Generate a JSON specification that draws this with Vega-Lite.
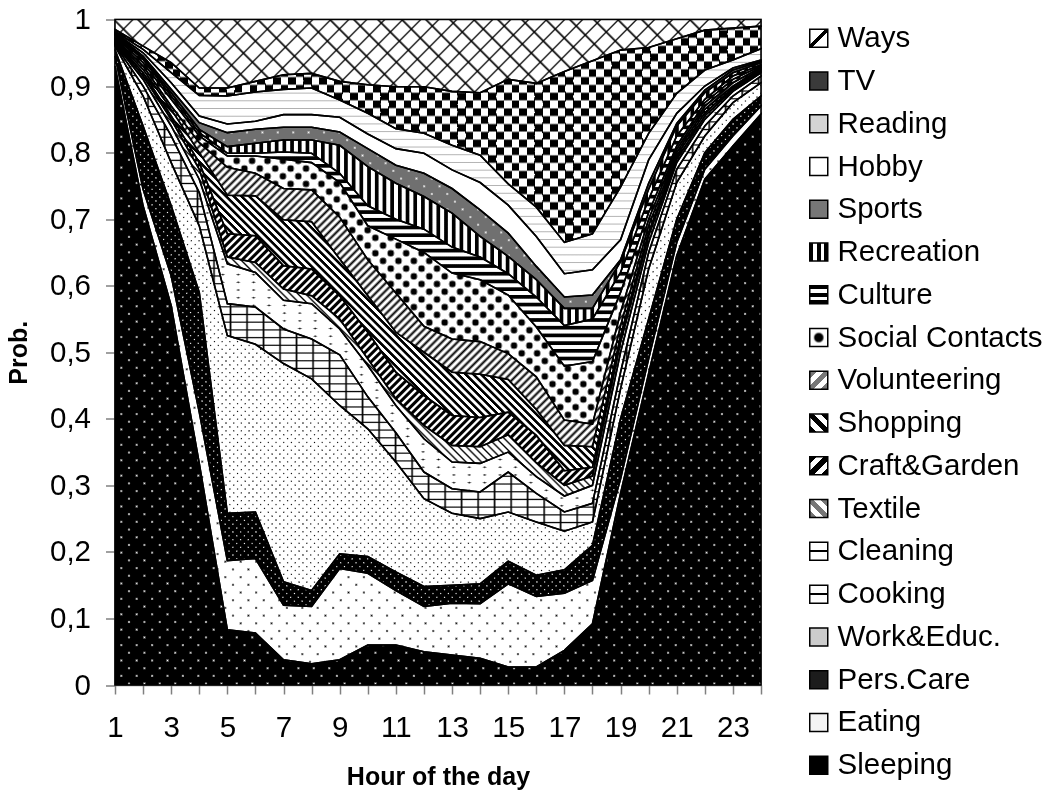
{"$schema":"https://vega.github.io/schema/vega-lite/v6.json","width":646,"height":665.5,"autosize":{"type":"none"},"padding":{"left":115,"top":19.5,"right":288,"bottom":107},"background":"white","config":{"view":{"stroke":"#808080","strokeWidth":1.5},"font":"Liberation Sans"},
"params":[
{"name":"S5","value":[{"offset":0,"color":"#000"},{"offset":0.2,"color":"#000"},{"offset":0.2,"color":"#fff"},{"offset":0.4,"color":"#fff"},{"offset":0.4,"color":"#000"},{"offset":0.6,"color":"#000"},{"offset":0.6,"color":"#fff"},{"offset":0.8,"color":"#fff"},{"offset":0.8,"color":"#000"},{"offset":1,"color":"#000"}]},
{"name":"G5","value":[{"offset":0,"color":"#777"},{"offset":0.2,"color":"#777"},{"offset":0.2,"color":"#fff"},{"offset":0.4,"color":"#fff"},{"offset":0.4,"color":"#777"},{"offset":0.6,"color":"#777"},{"offset":0.6,"color":"#fff"},{"offset":0.8,"color":"#fff"},{"offset":0.8,"color":"#777"},{"offset":1,"color":"#777"}]},
{"name":"T1","value":[{"offset":0,"color":"#fff"},{"offset":0.44,"color":"#fff"},{"offset":0.44,"color":"#000"},{"offset":0.56,"color":"#000"},{"offset":0.56,"color":"#fff"},{"offset":1,"color":"#fff"}]},
{"name":"L","value":[{"offset":0,"color":"#000"},{"offset":0.0025,"color":"#fff"},{"offset":0.0225,"color":"#fff"},{"offset":0.025,"color":"#000"},{"offset":0.0275,"color":"#fff"},{"offset":0.0475,"color":"#fff"},{"offset":0.05,"color":"#000"},{"offset":0.0525,"color":"#fff"},{"offset":0.0725,"color":"#fff"},{"offset":0.075,"color":"#000"},{"offset":0.0775,"color":"#fff"},{"offset":0.0975,"color":"#fff"},{"offset":0.1,"color":"#000"},{"offset":0.1025,"color":"#fff"},{"offset":0.1225,"color":"#fff"},{"offset":0.125,"color":"#000"},{"offset":0.1275,"color":"#fff"},{"offset":0.1475,"color":"#fff"},{"offset":0.15,"color":"#000"},{"offset":0.1525,"color":"#fff"},{"offset":0.1725,"color":"#fff"},{"offset":0.175,"color":"#000"},{"offset":0.1775,"color":"#fff"},{"offset":0.1975,"color":"#fff"},{"offset":0.2,"color":"#000"},{"offset":0.2025,"color":"#fff"},{"offset":0.2225,"color":"#fff"},{"offset":0.225,"color":"#000"},{"offset":0.2275,"color":"#fff"},{"offset":0.2475,"color":"#fff"},{"offset":0.25,"color":"#000"},{"offset":0.2525,"color":"#fff"},{"offset":0.2725,"color":"#fff"},{"offset":0.275,"color":"#000"},{"offset":0.2775,"color":"#fff"},{"offset":0.2975,"color":"#fff"},{"offset":0.3,"color":"#000"},{"offset":0.3025,"color":"#fff"},{"offset":0.3225,"color":"#fff"},{"offset":0.325,"color":"#000"},{"offset":0.3275,"color":"#fff"},{"offset":0.3475,"color":"#fff"},{"offset":0.35,"color":"#000"},{"offset":0.3525,"color":"#fff"},{"offset":0.3725,"color":"#fff"},{"offset":0.375,"color":"#000"},{"offset":0.3775,"color":"#fff"},{"offset":0.3975,"color":"#fff"},{"offset":0.4,"color":"#000"},{"offset":0.4025,"color":"#fff"},{"offset":0.4225,"color":"#fff"},{"offset":0.425,"color":"#000"},{"offset":0.4275,"color":"#fff"},{"offset":0.4475,"color":"#fff"},{"offset":0.45,"color":"#000"},{"offset":0.4525,"color":"#fff"},{"offset":0.4725,"color":"#fff"},{"offset":0.475,"color":"#000"},{"offset":0.4775,"color":"#fff"},{"offset":0.4975,"color":"#fff"},{"offset":0.5,"color":"#000"},{"offset":0.5025,"color":"#fff"},{"offset":0.5225,"color":"#fff"},{"offset":0.525,"color":"#000"},{"offset":0.5275,"color":"#fff"},{"offset":0.5475,"color":"#fff"},{"offset":0.55,"color":"#000"},{"offset":0.5525,"color":"#fff"},{"offset":0.5725,"color":"#fff"},{"offset":0.575,"color":"#000"},{"offset":0.5775,"color":"#fff"},{"offset":0.5975,"color":"#fff"},{"offset":0.6,"color":"#000"},{"offset":0.6025,"color":"#fff"},{"offset":0.6225,"color":"#fff"},{"offset":0.625,"color":"#000"},{"offset":0.6275,"color":"#fff"},{"offset":0.6475,"color":"#fff"},{"offset":0.65,"color":"#000"},{"offset":0.6525,"color":"#fff"},{"offset":0.6725,"color":"#fff"},{"offset":0.675,"color":"#000"},{"offset":0.6775,"color":"#fff"},{"offset":0.6975,"color":"#fff"},{"offset":0.7,"color":"#000"},{"offset":0.7025,"color":"#fff"},{"offset":0.7225,"color":"#fff"},{"offset":0.725,"color":"#000"},{"offset":0.7275,"color":"#fff"},{"offset":0.7475,"color":"#fff"},{"offset":0.75,"color":"#000"},{"offset":0.7525,"color":"#fff"},{"offset":0.7725,"color":"#fff"},{"offset":0.775,"color":"#000"},{"offset":0.7775,"color":"#fff"},{"offset":0.7975,"color":"#fff"},{"offset":0.8,"color":"#000"},{"offset":0.8025,"color":"#fff"},{"offset":0.8225,"color":"#fff"},{"offset":0.825,"color":"#000"},{"offset":0.8275,"color":"#fff"},{"offset":0.8475,"color":"#fff"},{"offset":0.85,"color":"#000"},{"offset":0.8525,"color":"#fff"},{"offset":0.8725,"color":"#fff"},{"offset":0.875,"color":"#000"},{"offset":0.8775,"color":"#fff"},{"offset":0.8975,"color":"#fff"},{"offset":0.9,"color":"#000"},{"offset":0.9025,"color":"#fff"},{"offset":0.9225,"color":"#fff"},{"offset":0.925,"color":"#000"},{"offset":0.9275,"color":"#fff"},{"offset":0.9475,"color":"#fff"},{"offset":0.95,"color":"#000"},{"offset":0.9525,"color":"#fff"},{"offset":0.9725,"color":"#fff"},{"offset":0.975,"color":"#000"},{"offset":0.9775,"color":"#fff"},{"offset":0.9975,"color":"#fff"},{"offset":1,"color":"#000"}]},
{"name":"D","value":[{"offset":0,"color":"#000"},{"offset":0.003,"color":"#fff"},{"offset":0.006,"color":"#000"},{"offset":0.009,"color":"#fff"},{"offset":0.012,"color":"#000"},{"offset":0.015,"color":"#fff"},{"offset":0.018,"color":"#000"},{"offset":0.021,"color":"#fff"},{"offset":0.024,"color":"#000"},{"offset":0.027,"color":"#fff"},{"offset":0.03,"color":"#000"},{"offset":0.033,"color":"#fff"},{"offset":0.036,"color":"#000"},{"offset":0.039,"color":"#fff"},{"offset":0.042,"color":"#000"},{"offset":0.045,"color":"#fff"},{"offset":0.048,"color":"#000"},{"offset":0.051,"color":"#fff"},{"offset":0.054,"color":"#000"},{"offset":0.057,"color":"#fff"},{"offset":0.06,"color":"#000"},{"offset":0.063,"color":"#fff"},{"offset":0.066,"color":"#000"},{"offset":0.069,"color":"#fff"},{"offset":0.072,"color":"#000"},{"offset":0.075,"color":"#fff"},{"offset":0.078,"color":"#000"},{"offset":0.081,"color":"#fff"},{"offset":0.084,"color":"#000"},{"offset":0.087,"color":"#fff"},{"offset":0.09,"color":"#000"},{"offset":0.093,"color":"#fff"},{"offset":0.096,"color":"#000"},{"offset":0.099,"color":"#fff"},{"offset":0.102,"color":"#000"},{"offset":0.105,"color":"#fff"},{"offset":0.108,"color":"#000"},{"offset":0.111,"color":"#fff"},{"offset":0.114,"color":"#000"},{"offset":0.117,"color":"#fff"},{"offset":0.12,"color":"#000"},{"offset":0.123,"color":"#fff"},{"offset":0.126,"color":"#000"},{"offset":0.129,"color":"#fff"},{"offset":0.132,"color":"#000"},{"offset":0.135,"color":"#fff"},{"offset":0.138,"color":"#000"},{"offset":0.141,"color":"#fff"},{"offset":0.144,"color":"#000"},{"offset":0.147,"color":"#fff"},{"offset":0.15,"color":"#000"},{"offset":0.153,"color":"#fff"},{"offset":0.156,"color":"#000"},{"offset":0.159,"color":"#fff"},{"offset":0.162,"color":"#000"},{"offset":0.165,"color":"#fff"},{"offset":0.168,"color":"#000"},{"offset":0.171,"color":"#fff"},{"offset":0.174,"color":"#000"},{"offset":0.177,"color":"#fff"},{"offset":0.18,"color":"#000"},{"offset":0.183,"color":"#fff"},{"offset":0.186,"color":"#000"},{"offset":0.189,"color":"#fff"},{"offset":0.192,"color":"#000"},{"offset":0.195,"color":"#fff"},{"offset":0.198,"color":"#000"},{"offset":0.201,"color":"#fff"},{"offset":0.204,"color":"#000"},{"offset":0.207,"color":"#fff"},{"offset":0.21,"color":"#000"},{"offset":0.213,"color":"#fff"},{"offset":0.216,"color":"#000"},{"offset":0.219,"color":"#fff"},{"offset":0.222,"color":"#000"},{"offset":0.225,"color":"#fff"},{"offset":0.228,"color":"#000"},{"offset":0.231,"color":"#fff"},{"offset":0.234,"color":"#000"},{"offset":0.237,"color":"#fff"},{"offset":0.24,"color":"#000"},{"offset":0.243,"color":"#fff"},{"offset":0.246,"color":"#000"},{"offset":0.249,"color":"#fff"},{"offset":0.252,"color":"#000"},{"offset":0.255,"color":"#fff"},{"offset":0.258,"color":"#000"},{"offset":0.261,"color":"#fff"},{"offset":0.264,"color":"#000"},{"offset":0.267,"color":"#fff"},{"offset":0.27,"color":"#000"},{"offset":0.273,"color":"#fff"},{"offset":0.276,"color":"#000"},{"offset":0.279,"color":"#fff"},{"offset":0.282,"color":"#000"},{"offset":0.285,"color":"#fff"},{"offset":0.288,"color":"#000"},{"offset":0.291,"color":"#fff"},{"offset":0.294,"color":"#000"},{"offset":0.297,"color":"#fff"},{"offset":0.3,"color":"#000"},{"offset":0.303,"color":"#fff"},{"offset":0.306,"color":"#000"},{"offset":0.309,"color":"#fff"},{"offset":0.312,"color":"#000"},{"offset":0.315,"color":"#fff"},{"offset":0.318,"color":"#000"},{"offset":0.321,"color":"#fff"},{"offset":0.324,"color":"#000"},{"offset":0.327,"color":"#fff"},{"offset":0.33,"color":"#000"},{"offset":0.333,"color":"#fff"},{"offset":0.336,"color":"#000"},{"offset":0.339,"color":"#fff"},{"offset":0.342,"color":"#000"},{"offset":0.345,"color":"#fff"},{"offset":0.348,"color":"#000"},{"offset":0.351,"color":"#fff"},{"offset":0.354,"color":"#000"},{"offset":0.357,"color":"#fff"},{"offset":0.36,"color":"#000"},{"offset":0.363,"color":"#fff"},{"offset":0.366,"color":"#000"},{"offset":0.369,"color":"#fff"},{"offset":0.372,"color":"#000"},{"offset":0.375,"color":"#fff"},{"offset":0.378,"color":"#000"},{"offset":0.381,"color":"#fff"},{"offset":0.384,"color":"#000"},{"offset":0.387,"color":"#fff"},{"offset":0.39,"color":"#000"},{"offset":0.393,"color":"#fff"},{"offset":0.396,"color":"#000"},{"offset":0.399,"color":"#fff"},{"offset":0.402,"color":"#000"},{"offset":0.405,"color":"#fff"},{"offset":0.408,"color":"#000"},{"offset":0.411,"color":"#fff"},{"offset":0.414,"color":"#000"},{"offset":0.417,"color":"#fff"},{"offset":0.42,"color":"#000"},{"offset":0.423,"color":"#fff"},{"offset":0.426,"color":"#000"},{"offset":0.429,"color":"#fff"},{"offset":0.432,"color":"#000"},{"offset":0.435,"color":"#fff"},{"offset":0.438,"color":"#000"},{"offset":0.441,"color":"#fff"},{"offset":0.444,"color":"#000"},{"offset":0.447,"color":"#fff"},{"offset":0.45,"color":"#000"},{"offset":0.453,"color":"#fff"},{"offset":0.456,"color":"#000"},{"offset":0.459,"color":"#fff"},{"offset":0.462,"color":"#000"},{"offset":0.465,"color":"#fff"},{"offset":0.468,"color":"#000"},{"offset":0.471,"color":"#fff"},{"offset":0.474,"color":"#000"},{"offset":0.477,"color":"#fff"},{"offset":0.48,"color":"#000"},{"offset":0.483,"color":"#fff"},{"offset":0.486,"color":"#000"},{"offset":0.489,"color":"#fff"},{"offset":0.492,"color":"#000"},{"offset":0.495,"color":"#fff"},{"offset":0.498,"color":"#000"},{"offset":0.501,"color":"#fff"},{"offset":0.504,"color":"#000"},{"offset":0.507,"color":"#fff"},{"offset":0.51,"color":"#000"},{"offset":0.513,"color":"#fff"},{"offset":0.516,"color":"#000"},{"offset":0.519,"color":"#fff"},{"offset":0.522,"color":"#000"},{"offset":0.525,"color":"#fff"},{"offset":0.528,"color":"#000"},{"offset":0.531,"color":"#fff"},{"offset":0.534,"color":"#000"},{"offset":0.537,"color":"#fff"},{"offset":0.54,"color":"#000"},{"offset":0.543,"color":"#fff"},{"offset":0.546,"color":"#000"},{"offset":0.549,"color":"#fff"},{"offset":0.552,"color":"#000"},{"offset":0.555,"color":"#fff"},{"offset":0.558,"color":"#000"},{"offset":0.561,"color":"#fff"},{"offset":0.564,"color":"#000"},{"offset":0.567,"color":"#fff"},{"offset":0.57,"color":"#000"},{"offset":0.573,"color":"#fff"},{"offset":0.576,"color":"#000"},{"offset":0.579,"color":"#fff"},{"offset":0.582,"color":"#000"},{"offset":0.585,"color":"#fff"},{"offset":0.588,"color":"#000"},{"offset":0.591,"color":"#fff"},{"offset":0.594,"color":"#000"},{"offset":0.597,"color":"#fff"},{"offset":0.6,"color":"#000"},{"offset":0.603,"color":"#fff"},{"offset":0.606,"color":"#000"},{"offset":0.609,"color":"#fff"},{"offset":0.612,"color":"#000"},{"offset":0.615,"color":"#fff"},{"offset":0.618,"color":"#000"},{"offset":0.621,"color":"#fff"},{"offset":0.624,"color":"#000"},{"offset":0.627,"color":"#fff"},{"offset":0.63,"color":"#000"},{"offset":0.633,"color":"#fff"},{"offset":0.636,"color":"#000"},{"offset":0.639,"color":"#fff"},{"offset":0.642,"color":"#000"},{"offset":0.645,"color":"#fff"},{"offset":0.648,"color":"#000"},{"offset":0.651,"color":"#fff"},{"offset":0.654,"color":"#000"},{"offset":0.657,"color":"#fff"},{"offset":0.66,"color":"#000"},{"offset":0.663,"color":"#fff"},{"offset":0.666,"color":"#000"},{"offset":0.669,"color":"#fff"},{"offset":0.672,"color":"#000"},{"offset":0.675,"color":"#fff"},{"offset":0.678,"color":"#000"},{"offset":0.681,"color":"#fff"},{"offset":0.684,"color":"#000"},{"offset":0.687,"color":"#fff"},{"offset":0.69,"color":"#000"},{"offset":0.693,"color":"#fff"},{"offset":0.696,"color":"#000"},{"offset":0.699,"color":"#fff"},{"offset":0.702,"color":"#000"},{"offset":0.705,"color":"#fff"},{"offset":0.708,"color":"#000"},{"offset":0.711,"color":"#fff"},{"offset":0.714,"color":"#000"},{"offset":0.717,"color":"#fff"},{"offset":0.72,"color":"#000"},{"offset":0.723,"color":"#fff"},{"offset":0.726,"color":"#000"},{"offset":0.729,"color":"#fff"},{"offset":0.732,"color":"#000"},{"offset":0.735,"color":"#fff"},{"offset":0.738,"color":"#000"},{"offset":0.741,"color":"#fff"},{"offset":0.744,"color":"#000"},{"offset":0.747,"color":"#fff"},{"offset":0.75,"color":"#000"},{"offset":0.753,"color":"#fff"},{"offset":0.756,"color":"#000"},{"offset":0.759,"color":"#fff"},{"offset":0.762,"color":"#000"},{"offset":0.765,"color":"#fff"},{"offset":0.768,"color":"#000"},{"offset":0.771,"color":"#fff"},{"offset":0.774,"color":"#000"},{"offset":0.777,"color":"#fff"},{"offset":0.78,"color":"#000"},{"offset":0.783,"color":"#fff"},{"offset":0.786,"color":"#000"},{"offset":0.789,"color":"#fff"},{"offset":0.792,"color":"#000"},{"offset":0.795,"color":"#fff"},{"offset":0.798,"color":"#000"},{"offset":0.801,"color":"#fff"},{"offset":0.804,"color":"#000"},{"offset":0.807,"color":"#fff"},{"offset":0.81,"color":"#000"},{"offset":0.813,"color":"#fff"},{"offset":0.816,"color":"#000"},{"offset":0.819,"color":"#fff"},{"offset":0.822,"color":"#000"},{"offset":0.825,"color":"#fff"},{"offset":0.828,"color":"#000"},{"offset":0.831,"color":"#fff"},{"offset":0.834,"color":"#000"},{"offset":0.837,"color":"#fff"},{"offset":0.84,"color":"#000"},{"offset":0.843,"color":"#fff"},{"offset":0.846,"color":"#000"},{"offset":0.849,"color":"#fff"},{"offset":0.852,"color":"#000"},{"offset":0.855,"color":"#fff"},{"offset":0.858,"color":"#000"},{"offset":0.861,"color":"#fff"},{"offset":0.864,"color":"#000"},{"offset":0.867,"color":"#fff"},{"offset":0.87,"color":"#000"},{"offset":0.873,"color":"#fff"},{"offset":0.876,"color":"#000"},{"offset":0.879,"color":"#fff"},{"offset":0.882,"color":"#000"},{"offset":0.885,"color":"#fff"},{"offset":0.888,"color":"#000"},{"offset":0.891,"color":"#fff"},{"offset":0.894,"color":"#000"},{"offset":0.897,"color":"#fff"},{"offset":0.9,"color":"#000"},{"offset":0.903,"color":"#fff"},{"offset":0.906,"color":"#000"},{"offset":0.909,"color":"#fff"},{"offset":0.912,"color":"#000"},{"offset":0.915,"color":"#fff"},{"offset":0.918,"color":"#000"},{"offset":0.921,"color":"#fff"},{"offset":0.924,"color":"#000"},{"offset":0.927,"color":"#fff"},{"offset":0.93,"color":"#000"},{"offset":0.933,"color":"#fff"},{"offset":0.936,"color":"#000"},{"offset":0.939,"color":"#fff"},{"offset":0.942,"color":"#000"},{"offset":0.945,"color":"#fff"},{"offset":0.948,"color":"#000"},{"offset":0.951,"color":"#fff"},{"offset":0.954,"color":"#000"},{"offset":0.957,"color":"#fff"},{"offset":0.96,"color":"#000"},{"offset":0.963,"color":"#fff"},{"offset":0.966,"color":"#000"},{"offset":0.969,"color":"#fff"},{"offset":0.972,"color":"#000"},{"offset":0.975,"color":"#fff"},{"offset":0.978,"color":"#000"},{"offset":0.981,"color":"#fff"},{"offset":0.984,"color":"#000"},{"offset":0.987,"color":"#fff"},{"offset":0.99,"color":"#000"},{"offset":0.993,"color":"#fff"},{"offset":0.996,"color":"#000"},{"offset":0.999,"color":"#fff"}]}
],
"data":{"values":[
{"hour":1,"activity":"Sleeping","prob":0.93},{"hour":2,"activity":"Sleeping","prob":0.72},{"hour":3,"activity":"Sleeping","prob":0.57},{"hour":4,"activity":"Sleeping","prob":0.333},{"hour":5,"activity":"Sleeping","prob":0.083},{"hour":6,"activity":"Sleeping","prob":0.078},{"hour":7,"activity":"Sleeping","prob":0.038},{"hour":8,"activity":"Sleeping","prob":0.032},{"hour":9,"activity":"Sleeping","prob":0.038},{"hour":10,"activity":"Sleeping","prob":0.06},{"hour":11,"activity":"Sleeping","prob":0.06},{"hour":12,"activity":"Sleeping","prob":0.05},{"hour":13,"activity":"Sleeping","prob":0.045},{"hour":14,"activity":"Sleeping","prob":0.04},{"hour":15,"activity":"Sleeping","prob":0.027},{"hour":16,"activity":"Sleeping","prob":0.027},{"hour":17,"activity":"Sleeping","prob":0.052},{"hour":18,"activity":"Sleeping","prob":0.092},{"hour":19,"activity":"Sleeping","prob":0.288},{"hour":20,"activity":"Sleeping","prob":0.468},{"hour":21,"activity":"Sleeping","prob":0.645},{"hour":22,"activity":"Sleeping","prob":0.76},{"hour":23,"activity":"Sleeping","prob":0.81},{"hour":24,"activity":"Sleeping","prob":0.858},
{"hour":1,"activity":"Eating","prob":0.015},{"hour":2,"activity":"Eating","prob":0.025},{"hour":3,"activity":"Eating","prob":0.045},{"hour":4,"activity":"Eating","prob":0.077},{"hour":5,"activity":"Eating","prob":0.104},{"hour":6,"activity":"Eating","prob":0.112},{"hour":7,"activity":"Eating","prob":0.082},{"hour":8,"activity":"Eating","prob":0.086},{"hour":9,"activity":"Eating","prob":0.137},{"hour":10,"activity":"Eating","prob":0.108},{"hour":11,"activity":"Eating","prob":0.082},{"hour":12,"activity":"Eating","prob":0.068},{"hour":13,"activity":"Eating","prob":0.078},{"hour":14,"activity":"Eating","prob":0.082},{"hour":15,"activity":"Eating","prob":0.125},{"hour":16,"activity":"Eating","prob":0.106},{"hour":17,"activity":"Eating","prob":0.086},{"hour":18,"activity":"Eating","prob":0.065},{"hour":19,"activity":"Eating","prob":0.022},{"hour":20,"activity":"Eating","prob":0.022},{"hour":21,"activity":"Eating","prob":0.02},{"hour":22,"activity":"Eating","prob":0.015},{"hour":23,"activity":"Eating","prob":0.015},{"hour":24,"activity":"Eating","prob":0.012},
{"hour":1,"activity":"Pers.Care","prob":0.01},{"hour":2,"activity":"Pers.Care","prob":0.095},{"hour":3,"activity":"Pers.Care","prob":0.105},{"hour":4,"activity":"Pers.Care","prob":0.18},{"hour":5,"activity":"Pers.Care","prob":0.071},{"hour":6,"activity":"Pers.Care","prob":0.07},{"hour":7,"activity":"Pers.Care","prob":0.035},{"hour":8,"activity":"Pers.Care","prob":0.024},{"hour":9,"activity":"Pers.Care","prob":0.022},{"hour":10,"activity":"Pers.Care","prob":0.025},{"hour":11,"activity":"Pers.Care","prob":0.028},{"hour":12,"activity":"Pers.Care","prob":0.03},{"hour":13,"activity":"Pers.Care","prob":0.027},{"hour":14,"activity":"Pers.Care","prob":0.03},{"hour":15,"activity":"Pers.Care","prob":0.034},{"hour":16,"activity":"Pers.Care","prob":0.032},{"hour":17,"activity":"Pers.Care","prob":0.035},{"hour":18,"activity":"Pers.Care","prob":0.053},{"hour":19,"activity":"Pers.Care","prob":0.09},{"hour":20,"activity":"Pers.Care","prob":0.06},{"hour":21,"activity":"Pers.Care","prob":0.035},{"hour":22,"activity":"Pers.Care","prob":0.025},{"hour":23,"activity":"Pers.Care","prob":0.025},{"hour":24,"activity":"Pers.Care","prob":0.015},
{"hour":1,"activity":"Work&Educ.","prob":0.005},{"hour":2,"activity":"Work&Educ.","prob":0.045},{"hour":3,"activity":"Work&Educ.","prob":0.065},{"hour":4,"activity":"Work&Educ.","prob":0.1},{"hour":5,"activity":"Work&Educ.","prob":0.267},{"hour":6,"activity":"Work&Educ.","prob":0.252},{"hour":7,"activity":"Work&Educ.","prob":0.328},{"hour":8,"activity":"Work&Educ.","prob":0.318},{"hour":9,"activity":"Work&Educ.","prob":0.223},{"hour":10,"activity":"Work&Educ.","prob":0.192},{"hour":11,"activity":"Work&Educ.","prob":0.165},{"hour":12,"activity":"Work&Educ.","prob":0.132},{"hour":13,"activity":"Work&Educ.","prob":0.108},{"hour":14,"activity":"Work&Educ.","prob":0.098},{"hour":15,"activity":"Work&Educ.","prob":0.074},{"hour":16,"activity":"Work&Educ.","prob":0.08},{"hour":17,"activity":"Work&Educ.","prob":0.058},{"hour":18,"activity":"Work&Educ.","prob":0.035},{"hour":19,"activity":"Work&Educ.","prob":0.045},{"hour":20,"activity":"Work&Educ.","prob":0.075},{"hour":21,"activity":"Work&Educ.","prob":0.055},{"hour":22,"activity":"Work&Educ.","prob":0.025},{"hour":23,"activity":"Work&Educ.","prob":0.025},{"hour":24,"activity":"Work&Educ.","prob":0.02},
{"hour":1,"activity":"Cooking","prob":0.002},{"hour":2,"activity":"Cooking","prob":0.015},{"hour":3,"activity":"Cooking","prob":0.04},{"hour":4,"activity":"Cooking","prob":0.05},{"hour":5,"activity":"Cooking","prob":0.048},{"hour":6,"activity":"Cooking","prob":0.056},{"hour":7,"activity":"Cooking","prob":0.052},{"hour":8,"activity":"Cooking","prob":0.06},{"hour":9,"activity":"Cooking","prob":0.076},{"hour":10,"activity":"Cooking","prob":0.048},{"hour":11,"activity":"Cooking","prob":0.044},{"hour":12,"activity":"Cooking","prob":0.04},{"hour":13,"activity":"Cooking","prob":0.037},{"hour":14,"activity":"Cooking","prob":0.04},{"hour":15,"activity":"Cooking","prob":0.06},{"hour":16,"activity":"Cooking","prob":0.043},{"hour":17,"activity":"Cooking","prob":0.029},{"hour":18,"activity":"Cooking","prob":0.028},{"hour":19,"activity":"Cooking","prob":0.025},{"hour":20,"activity":"Cooking","prob":0.025},{"hour":21,"activity":"Cooking","prob":0.02},{"hour":22,"activity":"Cooking","prob":0.015},{"hour":23,"activity":"Cooking","prob":0.01},{"hour":24,"activity":"Cooking","prob":0.01},
{"hour":1,"activity":"Cleaning","prob":0.002},{"hour":2,"activity":"Cleaning","prob":0.01},{"hour":3,"activity":"Cleaning","prob":0.015},{"hour":4,"activity":"Cleaning","prob":0.02},{"hour":5,"activity":"Cleaning","prob":0.06},{"hour":6,"activity":"Cleaning","prob":0.052},{"hour":7,"activity":"Cleaning","prob":0.043},{"hour":8,"activity":"Cleaning","prob":0.053},{"hour":9,"activity":"Cleaning","prob":0.039},{"hour":10,"activity":"Cleaning","prob":0.047},{"hour":11,"activity":"Cleaning","prob":0.041},{"hour":12,"activity":"Cleaning","prob":0.05},{"hour":13,"activity":"Cleaning","prob":0.04},{"hour":14,"activity":"Cleaning","prob":0.043},{"hour":15,"activity":"Cleaning","prob":0.03},{"hour":16,"activity":"Cleaning","prob":0.025},{"hour":17,"activity":"Cleaning","prob":0.024},{"hour":18,"activity":"Cleaning","prob":0.027},{"hour":19,"activity":"Cleaning","prob":0.03},{"hour":20,"activity":"Cleaning","prob":0.015},{"hour":21,"activity":"Cleaning","prob":0.01},{"hour":22,"activity":"Cleaning","prob":0.01},{"hour":23,"activity":"Cleaning","prob":0.007},{"hour":24,"activity":"Cleaning","prob":0.005},
{"hour":1,"activity":"Textile","prob":0.002},{"hour":2,"activity":"Textile","prob":0.005},{"hour":3,"activity":"Textile","prob":0.01},{"hour":4,"activity":"Textile","prob":0.015},{"hour":5,"activity":"Textile","prob":0.01},{"hour":6,"activity":"Textile","prob":0.015},{"hour":7,"activity":"Textile","prob":0.017},{"hour":8,"activity":"Textile","prob":0.012},{"hour":9,"activity":"Textile","prob":0.015},{"hour":10,"activity":"Textile","prob":0.01},{"hour":11,"activity":"Textile","prob":0.01},{"hour":12,"activity":"Textile","prob":0.02},{"hour":13,"activity":"Textile","prob":0.025},{"hour":14,"activity":"Textile","prob":0.025},{"hour":15,"activity":"Textile","prob":0.026},{"hour":16,"activity":"Textile","prob":0.021},{"hour":17,"activity":"Textile","prob":0.016},{"hour":18,"activity":"Textile","prob":0.014},{"hour":19,"activity":"Textile","prob":0.015},{"hour":20,"activity":"Textile","prob":0.01},{"hour":21,"activity":"Textile","prob":0.005},{"hour":22,"activity":"Textile","prob":0.005},{"hour":23,"activity":"Textile","prob":0.003},{"hour":24,"activity":"Textile","prob":0.002},
{"hour":1,"activity":"Craft&Garden","prob":0.002},{"hour":2,"activity":"Craft&Garden","prob":0.005},{"hour":3,"activity":"Craft&Garden","prob":0.005},{"hour":4,"activity":"Craft&Garden","prob":0.01},{"hour":5,"activity":"Craft&Garden","prob":0.035},{"hour":6,"activity":"Craft&Garden","prob":0.04},{"hour":7,"activity":"Craft&Garden","prob":0.035},{"hour":8,"activity":"Craft&Garden","prob":0.04},{"hour":9,"activity":"Craft&Garden","prob":0.035},{"hour":10,"activity":"Craft&Garden","prob":0.04},{"hour":11,"activity":"Craft&Garden","prob":0.04},{"hour":12,"activity":"Craft&Garden","prob":0.045},{"hour":13,"activity":"Craft&Garden","prob":0.045},{"hour":14,"activity":"Craft&Garden","prob":0.044},{"hour":15,"activity":"Craft&Garden","prob":0.034},{"hour":16,"activity":"Craft&Garden","prob":0.041},{"hour":17,"activity":"Craft&Garden","prob":0.022},{"hour":18,"activity":"Craft&Garden","prob":0.013},{"hour":19,"activity":"Craft&Garden","prob":0.01},{"hour":20,"activity":"Craft&Garden","prob":0.005},{"hour":21,"activity":"Craft&Garden","prob":0.005},{"hour":22,"activity":"Craft&Garden","prob":0.005},{"hour":23,"activity":"Craft&Garden","prob":0.002},{"hour":24,"activity":"Craft&Garden","prob":0.002},
{"hour":1,"activity":"Shopping","prob":0.002},{"hour":2,"activity":"Shopping","prob":0.005},{"hour":3,"activity":"Shopping","prob":0.01},{"hour":4,"activity":"Shopping","prob":0.015},{"hour":5,"activity":"Shopping","prob":0.058},{"hour":6,"activity":"Shopping","prob":0.06},{"hour":7,"activity":"Shopping","prob":0.069},{"hour":8,"activity":"Shopping","prob":0.071},{"hour":9,"activity":"Shopping","prob":0.055},{"hour":10,"activity":"Shopping","prob":0.055},{"hour":11,"activity":"Shopping","prob":0.06},{"hour":12,"activity":"Shopping","prob":0.065},{"hour":13,"activity":"Shopping","prob":0.065},{"hour":14,"activity":"Shopping","prob":0.065},{"hour":15,"activity":"Shopping","prob":0.049},{"hour":16,"activity":"Shopping","prob":0.039},{"hour":17,"activity":"Shopping","prob":0.038},{"hour":18,"activity":"Shopping","prob":0.031},{"hour":19,"activity":"Shopping","prob":0.015},{"hour":20,"activity":"Shopping","prob":0.01},{"hour":21,"activity":"Shopping","prob":0.005},{"hour":22,"activity":"Shopping","prob":0.005},{"hour":23,"activity":"Shopping","prob":0.003},{"hour":24,"activity":"Shopping","prob":0.002},
{"hour":1,"activity":"Volunteering","prob":0.002},{"hour":2,"activity":"Volunteering","prob":0.005},{"hour":3,"activity":"Volunteering","prob":0.005},{"hour":4,"activity":"Volunteering","prob":0.015},{"hour":5,"activity":"Volunteering","prob":0.042},{"hour":6,"activity":"Volunteering","prob":0.034},{"hour":7,"activity":"Volunteering","prob":0.047},{"hour":8,"activity":"Volunteering","prob":0.048},{"hour":9,"activity":"Volunteering","prob":0.063},{"hour":10,"activity":"Volunteering","prob":0.054},{"hour":11,"activity":"Volunteering","prob":0.059},{"hour":12,"activity":"Volunteering","prob":0.039},{"hour":13,"activity":"Volunteering","prob":0.05},{"hour":14,"activity":"Volunteering","prob":0.049},{"hour":15,"activity":"Volunteering","prob":0.039},{"hour":16,"activity":"Volunteering","prob":0.049},{"hour":17,"activity":"Volunteering","prob":0.038},{"hour":18,"activity":"Volunteering","prob":0.034},{"hour":19,"activity":"Volunteering","prob":0.02},{"hour":20,"activity":"Volunteering","prob":0.01},{"hour":21,"activity":"Volunteering","prob":0.005},{"hour":22,"activity":"Volunteering","prob":0.005},{"hour":23,"activity":"Volunteering","prob":0.005},{"hour":24,"activity":"Volunteering","prob":0.002},
{"hour":1,"activity":"Social Contacts","prob":0.003},{"hour":2,"activity":"Social Contacts","prob":0.005},{"hour":3,"activity":"Social Contacts","prob":0.01},{"hour":4,"activity":"Social Contacts","prob":0.01},{"hour":5,"activity":"Social Contacts","prob":0.017},{"hour":6,"activity":"Social Contacts","prob":0.026},{"hour":7,"activity":"Social Contacts","prob":0.044},{"hour":8,"activity":"Social Contacts","prob":0.041},{"hour":9,"activity":"Social Contacts","prob":0.052},{"hour":10,"activity":"Social Contacts","prob":0.051},{"hour":11,"activity":"Social Contacts","prob":0.081},{"hour":12,"activity":"Social Contacts","prob":0.111},{"hour":13,"activity":"Social Contacts","prob":0.099},{"hour":14,"activity":"Social Contacts","prob":0.093},{"hour":15,"activity":"Social Contacts","prob":0.088},{"hour":16,"activity":"Social Contacts","prob":0.075},{"hour":17,"activity":"Social Contacts","prob":0.081},{"hour":18,"activity":"Social Contacts","prob":0.094},{"hour":19,"activity":"Social Contacts","prob":0.03},{"hour":20,"activity":"Social Contacts","prob":0.01},{"hour":21,"activity":"Social Contacts","prob":0.005},{"hour":22,"activity":"Social Contacts","prob":0.005},{"hour":23,"activity":"Social Contacts","prob":0.005},{"hour":24,"activity":"Social Contacts","prob":0.002},
{"hour":1,"activity":"Culture","prob":0.002},{"hour":2,"activity":"Culture","prob":0.005},{"hour":3,"activity":"Culture","prob":0.005},{"hour":4,"activity":"Culture","prob":0.005},{"hour":5,"activity":"Culture","prob":0.004},{"hour":6,"activity":"Culture","prob":0.004},{"hour":7,"activity":"Culture","prob":0.011},{"hour":8,"activity":"Culture","prob":0.014},{"hour":9,"activity":"Culture","prob":0.014},{"hour":10,"activity":"Culture","prob":0.03},{"hour":11,"activity":"Culture","prob":0.03},{"hour":12,"activity":"Culture","prob":0.035},{"hour":13,"activity":"Culture","prob":0.039},{"hour":14,"activity":"Culture","prob":0.034},{"hour":15,"activity":"Culture","prob":0.032},{"hour":16,"activity":"Culture","prob":0.045},{"hour":17,"activity":"Culture","prob":0.061},{"hour":18,"activity":"Culture","prob":0.064},{"hour":19,"activity":"Culture","prob":0.03},{"hour":20,"activity":"Culture","prob":0.02},{"hour":21,"activity":"Culture","prob":0.015},{"hour":22,"activity":"Culture","prob":0.005},{"hour":23,"activity":"Culture","prob":0.005},{"hour":24,"activity":"Culture","prob":0.002},
{"hour":1,"activity":"Recreation","prob":0.001},{"hour":2,"activity":"Recreation","prob":0.002},{"hour":3,"activity":"Recreation","prob":0.005},{"hour":4,"activity":"Recreation","prob":0.005},{"hour":5,"activity":"Recreation","prob":0.01},{"hour":6,"activity":"Recreation","prob":0.015},{"hour":7,"activity":"Recreation","prob":0.018},{"hour":8,"activity":"Recreation","prob":0.02},{"hour":9,"activity":"Recreation","prob":0.042},{"hour":10,"activity":"Recreation","prob":0.059},{"hour":11,"activity":"Recreation","prob":0.054},{"hour":12,"activity":"Recreation","prob":0.049},{"hour":13,"activity":"Recreation","prob":0.051},{"hour":14,"activity":"Recreation","prob":0.031},{"hour":15,"activity":"Recreation","prob":0.026},{"hour":16,"activity":"Recreation","prob":0.026},{"hour":17,"activity":"Recreation","prob":0.026},{"hour":18,"activity":"Recreation","prob":0.016},{"hour":19,"activity":"Recreation","prob":0.016},{"hour":20,"activity":"Recreation","prob":0.015},{"hour":21,"activity":"Recreation","prob":0.015},{"hour":22,"activity":"Recreation","prob":0.01},{"hour":23,"activity":"Recreation","prob":0.005},{"hour":24,"activity":"Recreation","prob":0.003},
{"hour":1,"activity":"Sports","prob":0.001},{"hour":2,"activity":"Sports","prob":0.003},{"hour":3,"activity":"Sports","prob":0.005},{"hour":4,"activity":"Sports","prob":0.01},{"hour":5,"activity":"Sports","prob":0.021},{"hour":6,"activity":"Sports","prob":0.021},{"hour":7,"activity":"Sports","prob":0.019},{"hour":8,"activity":"Sports","prob":0.019},{"hour":9,"activity":"Sports","prob":0.02},{"hour":10,"activity":"Sports","prob":0.027},{"hour":11,"activity":"Sports","prob":0.027},{"hour":12,"activity":"Sports","prob":0.035},{"hour":13,"activity":"Sports","prob":0.037},{"hour":14,"activity":"Sports","prob":0.04},{"hour":15,"activity":"Sports","prob":0.035},{"hour":16,"activity":"Sports","prob":0.02},{"hour":17,"activity":"Sports","prob":0.017},{"hour":18,"activity":"Sports","prob":0.02},{"hour":19,"activity":"Sports","prob":0.003},{"hour":20,"activity":"Sports","prob":0.009},{"hour":21,"activity":"Sports","prob":0.004},{"hour":22,"activity":"Sports","prob":0.004},{"hour":23,"activity":"Sports","prob":0.004},{"hour":24,"activity":"Sports","prob":0.002},
{"hour":1,"activity":"Hobby","prob":0.001},{"hour":2,"activity":"Hobby","prob":0.005},{"hour":3,"activity":"Hobby","prob":0.01},{"hour":4,"activity":"Hobby","prob":0.01},{"hour":5,"activity":"Hobby","prob":0.013},{"hour":6,"activity":"Hobby","prob":0.012},{"hour":7,"activity":"Hobby","prob":0.019},{"hour":8,"activity":"Hobby","prob":0.019},{"hour":9,"activity":"Hobby","prob":0.022},{"hour":10,"activity":"Hobby","prob":0.022},{"hour":11,"activity":"Hobby","prob":0.025},{"hour":12,"activity":"Hobby","prob":0.03},{"hour":13,"activity":"Hobby","prob":0.028},{"hour":14,"activity":"Hobby","prob":0.041},{"hour":15,"activity":"Hobby","prob":0.042},{"hour":16,"activity":"Hobby","prob":0.045},{"hour":17,"activity":"Hobby","prob":0.035},{"hour":18,"activity":"Hobby","prob":0.038},{"hour":19,"activity":"Hobby","prob":0.03},{"hour":20,"activity":"Hobby","prob":0.035},{"hour":21,"activity":"Hobby","prob":0.015},{"hour":22,"activity":"Hobby","prob":0.006},{"hour":23,"activity":"Hobby","prob":0.003},{"hour":24,"activity":"Hobby","prob":0.002},
{"hour":1,"activity":"Reading","prob":0.002},{"hour":2,"activity":"Reading","prob":0.005},{"hour":3,"activity":"Reading","prob":0.015},{"hour":4,"activity":"Reading","prob":0.031},{"hour":5,"activity":"Reading","prob":0.042},{"hour":6,"activity":"Reading","prob":0.044},{"hour":7,"activity":"Reading","prob":0.038},{"hour":8,"activity":"Reading","prob":0.04},{"hour":9,"activity":"Reading","prob":0.026},{"hour":10,"activity":"Reading","prob":0.031},{"hour":11,"activity":"Reading","prob":0.03},{"hour":12,"activity":"Reading","prob":0.03},{"hour":13,"activity":"Reading","prob":0.037},{"hour":14,"activity":"Reading","prob":0.041},{"hour":15,"activity":"Reading","prob":0.032},{"hour":16,"activity":"Reading","prob":0.044},{"hour":17,"activity":"Reading","prob":0.047},{"hour":18,"activity":"Reading","prob":0.054},{"hour":19,"activity":"Reading","prob":0.079},{"hour":20,"activity":"Reading","prob":0.04},{"hour":21,"activity":"Reading","prob":0.03},{"hour":22,"activity":"Reading","prob":0.024},{"hour":23,"activity":"Reading","prob":0.012},{"hour":24,"activity":"Reading","prob":0.017},
{"hour":1,"activity":"TV","prob":0.003},{"hour":2,"activity":"TV","prob":0.005},{"hour":3,"activity":"TV","prob":0.015},{"hour":4,"activity":"TV","prob":0.011},{"hour":5,"activity":"TV","prob":0.012},{"hour":6,"activity":"TV","prob":0.016},{"hour":7,"activity":"TV","prob":0.022},{"hour":8,"activity":"TV","prob":0.022},{"hour":9,"activity":"TV","prob":0.028},{"hour":10,"activity":"TV","prob":0.043},{"hour":11,"activity":"TV","prob":0.063},{"hour":12,"activity":"TV","prob":0.07},{"hour":13,"activity":"TV","prob":0.081},{"hour":14,"activity":"TV","prob":0.094},{"hour":15,"activity":"TV","prob":0.157},{"hour":16,"activity":"TV","prob":0.186},{"hour":17,"activity":"TV","prob":0.257},{"hour":18,"activity":"TV","prob":0.26},{"hour":19,"activity":"TV","prob":0.206},{"hour":20,"activity":"TV","prob":0.129},{"hour":21,"activity":"TV","prob":0.082},{"hour":22,"activity":"TV","prob":0.06},{"hour":23,"activity":"TV","prob":0.048},{"hour":24,"activity":"TV","prob":0.034},
{"hour":1,"activity":"Ways","prob":0.015},{"hour":2,"activity":"Ways","prob":0.04},{"hour":3,"activity":"Ways","prob":0.065},{"hour":4,"activity":"Ways","prob":0.103},{"hour":5,"activity":"Ways","prob":0.103},{"hour":6,"activity":"Ways","prob":0.093},{"hour":7,"activity":"Ways","prob":0.083},{"hour":8,"activity":"Ways","prob":0.081},{"hour":9,"activity":"Ways","prob":0.093},{"hour":10,"activity":"Ways","prob":0.098},{"hour":11,"activity":"Ways","prob":0.101},{"hour":12,"activity":"Ways","prob":0.101},{"hour":13,"activity":"Ways","prob":0.108},{"hour":14,"activity":"Ways","prob":0.11},{"hour":15,"activity":"Ways","prob":0.09},{"hour":16,"activity":"Ways","prob":0.096},{"hour":17,"activity":"Ways","prob":0.078},{"hour":18,"activity":"Ways","prob":0.062},{"hour":19,"activity":"Ways","prob":0.046},{"hour":20,"activity":"Ways","prob":0.042},{"hour":21,"activity":"Ways","prob":0.029},{"hour":22,"activity":"Ways","prob":0.016},{"hour":23,"activity":"Ways","prob":0.013},{"hour":24,"activity":"Ways","prob":0.01}
]},
"transform":[{"stack":"prob","groupby":["hour"],"as":["low","high"]}],
"encoding":{
"x":{"field":"hour","type":"quantitative","scale":{"domain":[1,24],"nice":false,"zero":false},"axis":{"title":"Hour of the day","titleFont":"Liberation Sans","titleFontWeight":"bold","titleFontSize":25,"titleColor":"#000","titlePadding":23,"values":[1,2,3,4,5,6,7,8,9,10,11,12,13,14,15,16,17,18,19,20,21,22,23,24],"labelExpr":"datum.value%2==1?datum.value:''","labelFont":"Liberation Sans","labelFontSize":29.5,"labelColor":"#000","labelOverlap":false,"labelFlush":false,"labelPadding":19,"tickSize":9,"tickColor":"#808080","tickWidth":1.5,"domainColor":"#808080","domainWidth":1.5,"grid":false}},
"y":{"field":"low","type":"quantitative","scale":{"domain":[0,1],"nice":false},"axis":{"title":"Prob.","titleFont":"Liberation Sans","titleFontWeight":"bold","titleFontSize":25,"titleColor":"#000","titlePadding":18,"values":[0,0.1,0.2,0.3,0.4,0.5,0.6,0.7,0.8,0.9,1],"labelExpr":"datum.value==0?'0':datum.value==1?'1':replace(format(datum.value,'.1f'),'.',',')","labelFont":"Liberation Sans","labelFontSize":29.5,"labelColor":"#000","labelOverlap":false,"labelFlush":false,"labelPadding":15,"tickSize":9.5,"tickColor":"#808080","tickWidth":1.5,"domainColor":"#808080","domainWidth":1.5,"grid":false}},
"y2":{"field":"high"}},
"layer":[
{"mark":{"type":"area"},"encoding":{"fill":{"field":"activity","type":"nominal","scale":{"domain":["Ways","TV","Reading","Hobby","Sports","Recreation","Culture","Social Contacts","Volunteering","Shopping","Craft&Garden","Textile","Cleaning","Cooking","Work&Educ.","Pers.Care","Eating","Sleeping"],"range":[
{"expr":"{gradient:'linear',x1:0,y1:0,x2:1,y2:1,stops:T1}"},"#3a3a3a","#d4d4d4","#ffffff","#777777",
{"expr":"{gradient:'linear',x1:0,y1:0,x2:1,y2:0,stops:S5}"},{"expr":"{gradient:'linear',x1:0,y1:0,x2:0,y2:1,stops:S5}"},
{"expr":"{gradient:'radial',x1:0.5,y1:0.5,x2:0.5,y2:0.5,r1:0.22,r2:0.3,stops:[{offset:0,color:'#000'},{offset:1,color:'#fff'}]}"},
{"expr":"{gradient:'linear',x1:0,y1:0,x2:1,y2:1,stops:G5}"},{"expr":"{gradient:'linear',x1:0,y1:1,x2:1,y2:0,stops:S5}"},{"expr":"{gradient:'linear',x1:0,y1:0,x2:1,y2:1,stops:S5}"},{"expr":"{gradient:'linear',x1:0,y1:1,x2:1,y2:0,stops:G5}"},
{"expr":"{gradient:'linear',x1:0,y1:0,x2:0,y2:1,stops:T1}"},{"expr":"{gradient:'linear',x1:0,y1:0,x2:0,y2:1,stops:T1}"},"#cccccc","#1c1c1c","#f4f4f4","#000000"]},
"legend":{"title":null,"orient":"none","legendX":689,"legendY":4,"symbolType":"square","symbolSize":324,"symbolStrokeColor":"#000","symbolStrokeWidth":1.5,"labelFont":"Liberation Sans","labelFontSize":29.5,"labelColor":"#000","rowPadding":11.76,"labelOffset":4,"labelLimit":260}}}},
{"transform":[{"filter":"datum.activity==='Sleeping'"}],"mark":{"type":"area","fill":{"expr":"{gradient:'linear',x1:0,y1:0,x2:2.072,y2:1.985,stops:D}"}}},
{"transform":[{"filter":"datum.activity==='Sleeping'"}],"mark":{"type":"area","blend":"screen","fill":{"expr":"{gradient:'linear',x1:0,y1:1,x2:2.072,y2:-0.985,stops:D}"}}},
{"transform":[{"filter":"datum.activity==='Sleeping'"}],"mark":{"type":"area","blend":"color-dodge","fill":"#a0a0a0"}},
{"transform":[{"filter":"datum.activity==='Sleeping'"}],"mark":{"type":"area","blend":"difference","fill":"#ffffff"}},
{"transform":[{"filter":"datum.activity==='Eating'"}],"mark":{"type":"area","fill":{"expr":"{gradient:'linear',x1:0,y1:0,x2:2.097,y2:1.984,stops:D}"}}},
{"transform":[{"filter":"datum.activity==='Eating'"}],"mark":{"type":"area","blend":"screen","fill":{"expr":"{gradient:'linear',x1:0,y1:1,x2:2.097,y2:-0.984,stops:D}"}}},
{"transform":[{"filter":"datum.activity==='Eating'"}],"mark":{"type":"area","blend":"color-dodge","fill":"#a0a0a0"}},
{"transform":[{"filter":"datum.activity==='Pers.Care'"}],"mark":{"type":"area","fill":{"expr":"{gradient:'linear',x1:0,y1:0,x2:1.139,y2:0.982,stops:D}"}}},
{"transform":[{"filter":"datum.activity==='Pers.Care'"}],"mark":{"type":"area","blend":"screen","fill":{"expr":"{gradient:'linear',x1:0,y1:1,x2:1.139,y2:0.018,stops:D}"}}},
{"transform":[{"filter":"datum.activity==='Pers.Care'"}],"mark":{"type":"area","blend":"color-dodge","fill":"#808080"}},
{"transform":[{"filter":"datum.activity==='Pers.Care'"}],"mark":{"type":"area","blend":"difference","fill":"#ffffff"}},
{"transform":[{"filter":"datum.activity==='Work&Educ.'"}],"mark":{"type":"area","fill":{"expr":"{gradient:'linear',x1:0,y1:0,x2:1.169,y2:0.977,stops:D}"}}},
{"transform":[{"filter":"datum.activity==='Work&Educ.'"}],"mark":{"type":"area","blend":"screen","fill":{"expr":"{gradient:'linear',x1:0,y1:1,x2:1.169,y2:0.023,stops:D}"}}},
{"transform":[{"filter":"datum.activity==='Work&Educ.'"}],"mark":{"type":"area","blend":"color-dodge","fill":"#808080"}},
{"transform":[{"filter":"datum.activity==='Cooking'"}],"mark":{"type":"area","fill":{"expr":"{gradient:'linear',x1:0,y1:0,x2:0,y2:2.64,stops:D}"}}},
{"transform":[{"filter":"datum.activity==='Cooking'"}],"mark":{"type":"area","blend":"color-dodge","fill":"#b0b0b0"}},
{"transform":[{"filter":"datum.activity==='Cooking'"}],"mark":{"type":"area","blend":"multiply","fill":{"expr":"{gradient:'linear',x1:0,y1:0,x2:1.022,y2:0,stops:L}"}}},
{"transform":[{"filter":"datum.activity==='Cleaning'"}],"mark":{"type":"area","fill":{"expr":"{gradient:'linear',x1:0,y1:0,x2:0,y2:2.741,stops:D}"}}},
{"transform":[{"filter":"datum.activity==='Cleaning'"}],"mark":{"type":"area","blend":"screen","fill":{"expr":"{gradient:'linear',x1:0,y1:0,x2:3.974,y2:0,stops:D}"}}},
{"transform":[{"filter":"datum.activity==='Cleaning'"}],"mark":{"type":"area","blend":"color-dodge","fill":"#a0a0a0"}},
{"transform":[{"filter":"datum.activity==='Textile'"}],"mark":{"type":"area","fill":{"expr":"{gradient:'linear',x1:0,y1:1,x2:1.33,y2:0.065,stops:D}"}}},
{"transform":[{"filter":"datum.activity==='Textile'"}],"mark":{"type":"area","blend":"color-dodge","fill":"#808080"}},
{"transform":[{"filter":"datum.activity==='Craft&Garden'"}],"mark":{"type":"area","fill":{"expr":"{gradient:'linear',x1:0,y1:0,x2:1.347,y2:0.928,stops:D}"}}},
{"transform":[{"filter":"datum.activity==='Craft&Garden'"}],"mark":{"type":"area","blend":"color-dodge","fill":"#404040"}},
{"transform":[{"filter":"datum.activity==='Craft&Garden'"}],"mark":{"type":"area","blend":"color-burn","fill":"#808080"}},
{"transform":[{"filter":"datum.activity==='Shopping'"}],"mark":{"type":"area","fill":{"expr":"{gradient:'linear',x1:0,y1:1,x2:1.376,y2:0.082,stops:D}"}}},
{"transform":[{"filter":"datum.activity==='Shopping'"}],"mark":{"type":"area","blend":"color-dodge","fill":"#666666"}},
{"transform":[{"filter":"datum.activity==='Shopping'"}],"mark":{"type":"area","blend":"color-burn","fill":"#666666"}},
{"transform":[{"filter":"datum.activity==='Volunteering'"}],"mark":{"type":"area","fill":{"expr":"{gradient:'linear',x1:0,y1:0,x2:1.418,y2:0.898,stops:D}"}}},
{"transform":[{"filter":"datum.activity==='Volunteering'"}],"mark":{"type":"area","blend":"color-dodge","fill":"#404040"}},
{"transform":[{"filter":"datum.activity==='Social Contacts'"}],"mark":{"type":"area","fill":{"expr":"{gradient:'linear',x1:0,y1:0,x2:2.92,y2:1.755,stops:D}"}}},
{"transform":[{"filter":"datum.activity==='Social Contacts'"}],"mark":{"type":"area","blend":"screen","fill":{"expr":"{gradient:'linear',x1:0,y1:1,x2:2.92,y2:-0.755,stops:D}"}}},
{"transform":[{"filter":"datum.activity==='Social Contacts'"}],"mark":{"type":"area","blend":"color-dodge","fill":"#333333"}},
{"transform":[{"filter":"datum.activity==='Social Contacts'"}],"mark":{"type":"area","blend":"color-burn","fill":"#606060"}},
{"transform":[{"filter":"datum.activity==='Culture'"}],"mark":{"type":"area","fill":{"expr":"{gradient:'linear',x1:0,y1:0,x2:0,y2:3.876,stops:D}"}}},
{"transform":[{"filter":"datum.activity==='Culture'"}],"mark":{"type":"area","blend":"color-dodge","fill":"#666666"}},
{"transform":[{"filter":"datum.activity==='Culture'"}],"mark":{"type":"area","blend":"color-burn","fill":"#666666"}},
{"transform":[{"filter":"datum.activity==='Recreation'"}],"mark":{"type":"area","fill":{"expr":"{gradient:'linear',x1:0,y1:0,x2:1.986,y2:0,stops:D}"}}},
{"transform":[{"filter":"datum.activity==='Recreation'"}],"mark":{"type":"area","blend":"color-dodge","fill":"#666666"}},
{"transform":[{"filter":"datum.activity==='Recreation'"}],"mark":{"type":"area","blend":"color-burn","fill":"#666666"}},
{"transform":[{"filter":"datum.activity==='Sports'"}],"mark":{"type":"area","fill":{"expr":"{gradient:'linear',x1:0,y1:0,x2:3.364,y2:1.433,stops:D}"}}},
{"transform":[{"filter":"datum.activity==='Sports'"}],"mark":{"type":"area","blend":"screen","fill":{"expr":"{gradient:'linear',x1:0,y1:1,x2:3.364,y2:-0.433,stops:D}"}}},
{"transform":[{"filter":"datum.activity==='Sports'"}],"mark":{"type":"area","blend":"color-dodge","fill":"#a0a0a0"}},
{"transform":[{"filter":"datum.activity==='Sports'"}],"mark":{"type":"area","blend":"difference","fill":"#ffffff"}},
{"transform":[{"filter":"datum.activity==='Sports'"}],"mark":{"type":"area","blend":"screen","fill":"#707070"}},
{"transform":[{"filter":"datum.activity==='Reading'"}],"mark":{"type":"area","fill":{"expr":"{gradient:'linear',x1:0,y1:0,x2:0,y2:5.3,stops:D}"}}},
{"transform":[{"filter":"datum.activity==='Reading'"}],"mark":{"type":"area","blend":"color-dodge","fill":"#c0c0c0"}},
{"transform":[{"filter":"datum.activity==='Reading'"}],"mark":{"type":"area","blend":"screen","fill":"#b0b0b0"}},
{"transform":[{"filter":"datum.activity==='TV'"}],"mark":{"type":"area","fill":{"expr":"{gradient:'linear',x1:0,y1:0,x2:3.974,y2:0,stops:D}"}}},
{"transform":[{"filter":"datum.activity==='TV'"}],"mark":{"type":"area","blend":"color-dodge","fill":"#666666"}},
{"transform":[{"filter":"datum.activity==='TV'"}],"mark":{"type":"area","blend":"color-burn","fill":"#666666"}},
{"transform":[{"filter":"datum.activity==='TV'"}],"mark":{"type":"area","blend":"color-dodge","fill":"#666666"}},
{"transform":[{"filter":"datum.activity==='TV'"}],"mark":{"type":"area","blend":"color-burn","fill":"#666666"}},
{"transform":[{"filter":"datum.activity==='TV'"}],"mark":{"type":"area","blend":"difference","fill":{"expr":"{gradient:'linear',x1:0,y1:0,x2:0,y2:12.05,stops:D}"}}},
{"transform":[{"filter":"datum.activity==='TV'"}],"mark":{"type":"area","blend":"color-dodge","fill":"#666666"}},
{"transform":[{"filter":"datum.activity==='TV'"}],"mark":{"type":"area","blend":"color-burn","fill":"#666666"}},
{"transform":[{"filter":"datum.activity==='Ways'"}],"mark":{"type":"area","fill":{"expr":"{gradient:'linear',x1:0,y1:0,x2:1.1,y2:0.124,stops:L}"}}},
{"transform":[{"filter":"datum.activity==='Ways'"}],"mark":{"type":"area","blend":"multiply","fill":{"expr":"{gradient:'linear',x1:0,y1:1,x2:1.467,y2:0.834,stops:L}"}}},
{"mark":{"type":"area","fill":null,"stroke":"#000","strokeWidth":1.6},"encoding":{"detail":{"field":"activity"}}}
]}
